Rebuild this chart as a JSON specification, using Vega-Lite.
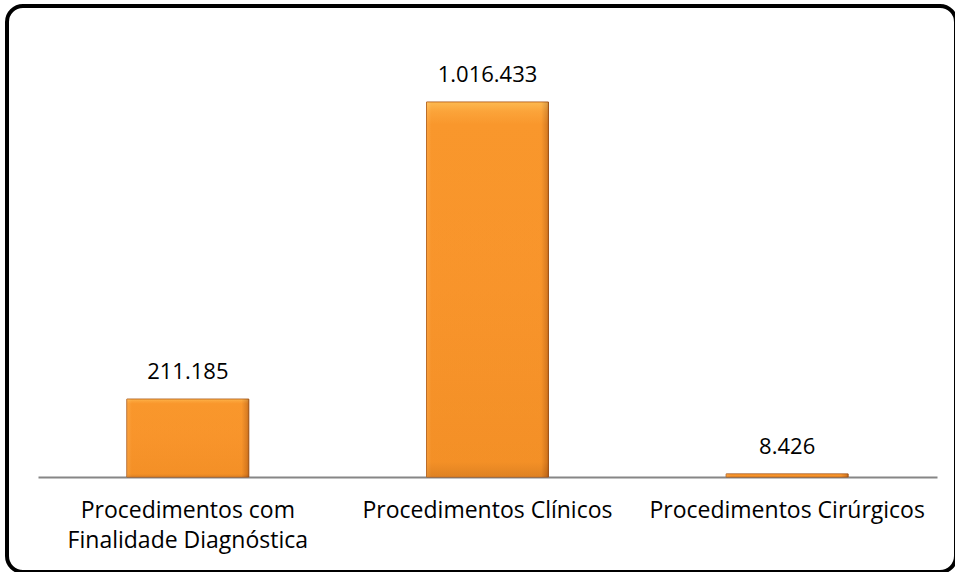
{
  "$schema": "https://vega.github.io/schema/vega-lite/v6.json",
  "autosize": {"type": "none"},
  "width": 949,
  "height": 566,
  "padding": {"left": 7, "top": 6, "right": 0, "bottom": 0},
  "background": "white",
  "config": {
    "view": {"stroke": "black", "strokeWidth": 4, "cornerRadius": 16},
    "font": "Open Sans"
  },
  "data": {
    "values": [
      {"categoria": "Procedimentos com Finalidade Diagnóstica", "valor": 211185, "rotulo": "211.185"},
      {"categoria": "Procedimentos Clínicos", "valor": 1016433, "rotulo": "1.016.433"},
      {"categoria": "Procedimentos Cirúrgicos", "valor": 8426, "rotulo": "8.426"}
    ]
  },
  "encoding": {
    "x": {
      "field": "categoria",
      "type": "nominal",
      "sort": null,
      "scale": {"range": [31, 930], "paddingInner": 0.593, "paddingOuter": 0.2965},
      "axis": {
        "title": null,
        "orient": "bottom",
        "offset": -95,
        "labelAngle": 0,
        "ticks": false,
        "domainColor": "#868686",
        "domainWidth": 2,
        "labelFont": "Open Sans",
        "labelFontSize": 23,
        "labelColor": "#000000",
        "labelPadding": 22,
        "labelBaseline": "top",
        "labelLineHeight": 30,
        "labelLimit": 400,
        "labelExpr": "datum.label == 'Procedimentos com Finalidade Diagnóstica' ? ['Procedimentos com', 'Finalidade Diagnóstica'] : datum.label"
      }
    },
    "y": {
      "field": "valor",
      "type": "quantitative",
      "scale": {"domain": [0, 1016433], "range": [471, 96], "nice": false, "zero": true},
      "axis": null
    }
  },
  "layer": [
    {
      "mark": {
        "type": "bar",
        "stroke": "#A8581A",
        "strokeWidth": 1,
        "fill": {
          "gradient": "linear",
          "x1": 0, "y1": 0, "x2": 0, "y2": 1,
          "stops": [
            {"offset": 0, "color": "#FFD56E"},
            {"offset": 0.025, "color": "#FDAE45"},
            {"offset": 0.06, "color": "#F9972C"},
            {"offset": 0.5, "color": "#F7922A"},
            {"offset": 0.96, "color": "#EF8A22"},
            {"offset": 1, "color": "#C9701A"}
          ]
        }
      }
    },
    {
      "mark": {
        "type": "bar",
        "fill": {
          "gradient": "linear",
          "x1": 0, "y1": 0, "x2": 1, "y2": 0,
          "stops": [
            {"offset": 0, "color": "#FFB55A"},
            {"offset": 0.04, "color": "#F9972C"},
            {"offset": 0.94, "color": "#F9972C"},
            {"offset": 0.985, "color": "#B86218"},
            {"offset": 1, "color": "#7A3C0E"}
          ]
        },
        "fillOpacity": 0.45
      }
    },
    {
      "mark": {
        "type": "text",
        "baseline": "alphabetic",
        "dy": -20,
        "font": "Open Sans",
        "fontSize": 22,
        "color": "#000000"
      },
      "encoding": {"text": {"field": "rotulo"}}
    }
  ]
}
